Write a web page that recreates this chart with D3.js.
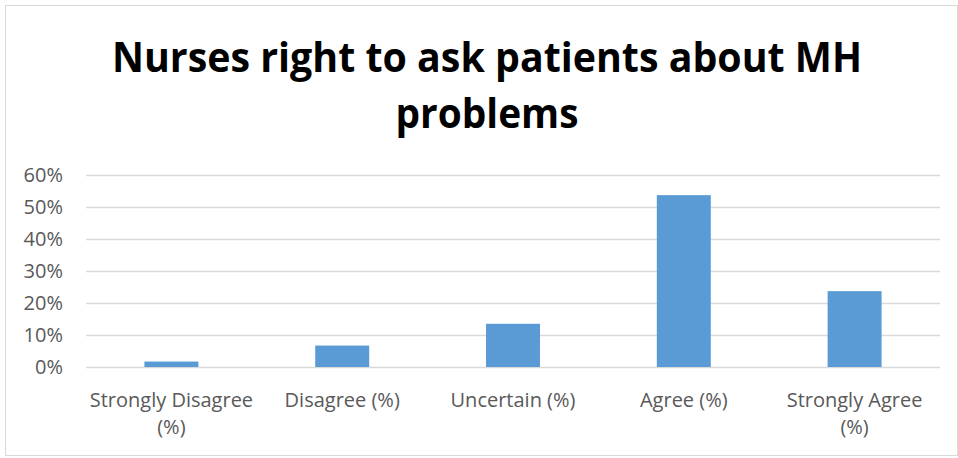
<!DOCTYPE html>
<html><head><meta charset="utf-8">
<script src="https://cdn.jsdelivr.net/npm/d3@7"></script>
<style>body{margin:0;background:#fff}svg{display:block}</style>
</head><body>
<svg id="c" width="958" height="458"></svg>
<script>
const titleLines = ["Nurses right to ask patients about MH", "problems"];
const categories = [["Strongly Disagree", "(%)"], ["Disagree (%)"], ["Uncertain (%)"], ["Agree (%)"], ["Strongly Agree", "(%)"]];
const values = [0.017, 0.067, 0.135, 0.537, 0.237];
const yTicks = [0, 0.1, 0.2, 0.3, 0.4, 0.5, 0.6];

const svg = d3.select("#c");
const W = 958, H = 458;
svg.append("rect").attr("x", 5.5).attr("y", 5.5).attr("width", W - 6).attr("height", H - 8)
  .attr("fill", "#fff").attr("stroke", "#d9d9d9");

const m = {l: 86, r: 940, t: 175, b: 367};
const keys = categories.map((c, i) => i);
const x = d3.scaleBand().domain(keys).range([m.l, m.r]).paddingInner(0.684).paddingOuter(0.342);
const y = d3.scaleLinear().domain([0, 0.6]).range([m.b, m.t]);

const font = "'Open Sans', 'Liberation Sans', sans-serif";

// title
const tg = svg.append("g");
const targetW = [750, 183];
const baseY = [72, 128];
titleLines.forEach((t, i) => {
  const el = tg.append("text").attr("x", 487).attr("y", baseY[i])
    .attr("text-anchor", "middle").attr("font-family", font).attr("font-weight", "bold")
    .attr("font-size", 42).attr("fill", "#000").text(t);
  el.attr("textLength", targetW[i]).attr("lengthAdjust", "spacingAndGlyphs");
});

// gridlines + y axis
const yAxis = d3.axisLeft(y).tickValues(yTicks).tickFormat(d3.format(".0%"))
  .tickSize(-(m.r - m.l)).tickPadding(23);
const ga = svg.append("g").attr("transform", `translate(${m.l},0)`).call(yAxis);
ga.select(".domain").remove();
ga.selectAll(".tick line").attr("stroke", "#d9d9d9").attr("stroke-width", 1.3);
ga.selectAll(".tick text").attr("font-family", font).attr("font-size", 20).attr("fill", "#595959");

// bars
svg.append("g").selectAll("rect").data(values).join("rect")
  .attr("x", (d, i) => x(i)).attr("width", x.bandwidth())
  .attr("y", d => y(d)).attr("height", d => y(0) - y(d))
  .attr("fill", "#5b9bd5");

// x labels
const xg = svg.append("g");
categories.forEach((lines, i) => {
  const cx = x(i) + x.bandwidth() / 2;
  lines.forEach((ln, j) => {
    xg.append("text").attr("x", cx).attr("y", 407 + j * 27).attr("text-anchor", "middle")
      .attr("font-family", font).attr("font-size", 20).attr("fill", "#595959").text(ln);
  });
});
</script>
</body></html>
